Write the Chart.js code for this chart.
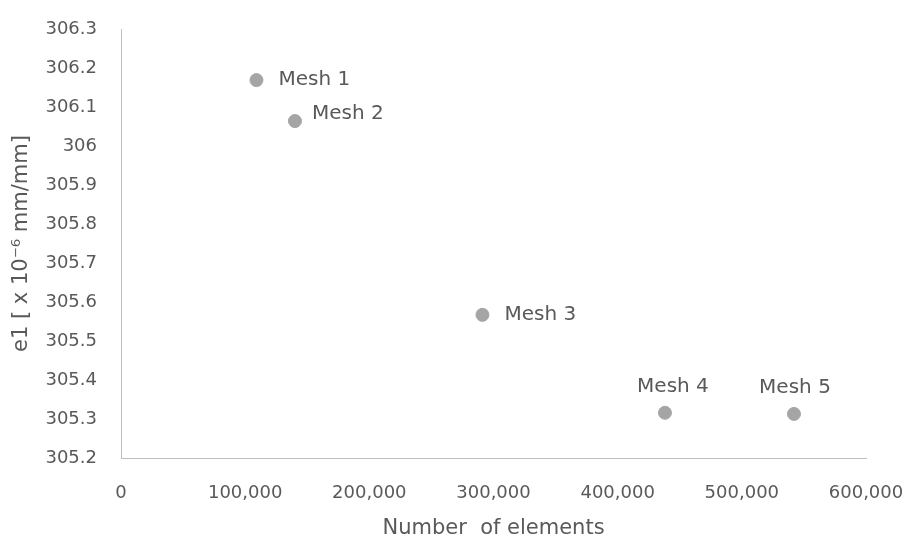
<!DOCTYPE html>
<html>
<head>
<meta charset="utf-8">
<script src="https://cdn.jsdelivr.net/npm/chart.js@4.4.0/dist/chart.umd.min.js"></script>
<style>
  html, body { margin: 0; padding: 0; background: #fff; }
  #wrap { width: 909px; height: 538px; }
</style>
</head>
<body>
<div id="wrap"><canvas id="chartMesh" width="909" height="538"></canvas></div>
<script>
// data
const meshNames = ['Mesh 1', 'Mesh 2', 'Mesh 3', 'Mesh 4', 'Mesh 5'];
const elements = [109100, 140100, 291100, 438100, 542000];
const strain = [306.169, 306.064, 305.567, 305.316, 305.313];

const points = elements.map(function (x, i) {
  return { x: x, y: strain[i] };
});

const FONT = '"DejaVu Sans", sans-serif';

// draw "Mesh n" next to each point (dx, dy = text centre offset from the point)
const meshLabels = {
  id: 'meshLabels',
  afterDatasetsDraw(chart, args, opts) {
    const ctx = chart.ctx;
    const meta = chart.getDatasetMeta(0);
    ctx.save();
    ctx.font = '20px ' + FONT;
    ctx.fillStyle = '#595959';
    ctx.textBaseline = 'middle';
    meta.data.forEach(function (pt, i) {
      const p = opts.place[i];
      ctx.textAlign = p.align;
      ctx.fillText(meshNames[i], pt.x + p.dx, pt.y + p.dy);
    });
    ctx.restore();
  }
};

const config = {
  type: 'scatter',
  data: {
    datasets: [{
      label: 'e1',
      data: points,
      backgroundColor: '#A5A5A5',
      borderColor: '#A5A5A5',
      pointRadius: 6.5,
      pointHoverRadius: 6.5
    }]
  },
  options: {
    responsive: false,
    animation: false,
    layout: { padding: { top: 29, right: 43, left: 0, bottom: 0 } },
    plugins: {
      legend: { display: false },
      tooltip: { enabled: false },
      meshLabels: {
        place: [
          { align: 'left', dx: 22, dy: 0 },
          { align: 'left', dx: 17, dy: -7 },
          { align: 'left', dx: 22, dy: 0 },
          { align: 'center', dx: 8, dy: -26 },
          { align: 'center', dx: 1, dy: -26 }
        ]
      }
    },
    scales: {
      x: {
        type: 'linear',
        min: 0,
        max: 600000,
        afterFit: function (scale) {
          scale.height = 80;
          scale.paddingLeft = 0;
          scale.paddingRight = 0;
        },
        grid: { display: false, drawTicks: false },
        border: { display: true, color: '#BFBFBF', width: 1 },
        ticks: {
          stepSize: 100000,
          padding: 25,
          color: '#595959',
          font: { family: FONT, size: 18 },
          callback: function (v) { return v.toLocaleString('en-US'); }
        },
        title: {
          display: true,
          text: 'Number  of elements',
          color: '#595959',
          font: { family: FONT, size: 21 },
          padding: { top: 0, bottom: -3 }
        }
      },
      y: {
        type: 'linear',
        min: 305.2,
        max: 306.3,
        afterFit: function (scale) {
          scale.width = 121;
          scale.paddingTop = 0;
          scale.paddingBottom = 0;
        },
        grid: { display: false, drawTicks: false },
        border: { display: true, color: '#BFBFBF', width: 1 },
        ticks: {
          stepSize: 0.1,
          padding: 24,
          color: '#595959',
          font: { family: FONT, size: 18 },
          callback: function (v) { return parseFloat(v.toFixed(1)).toString(); }
        },
        title: {
          display: true,
          text: 'e1 [ x 10\u207B\u2076 mm/mm]',
          color: '#595959',
          font: { family: FONT, size: 21 },
          padding: { top: 9, bottom: 0 }
        }
      }
    }
  },
  plugins: [meshLabels]
};

const chartMesh = new Chart(document.getElementById('chartMesh'), config);
</script>
</body>
</html>
